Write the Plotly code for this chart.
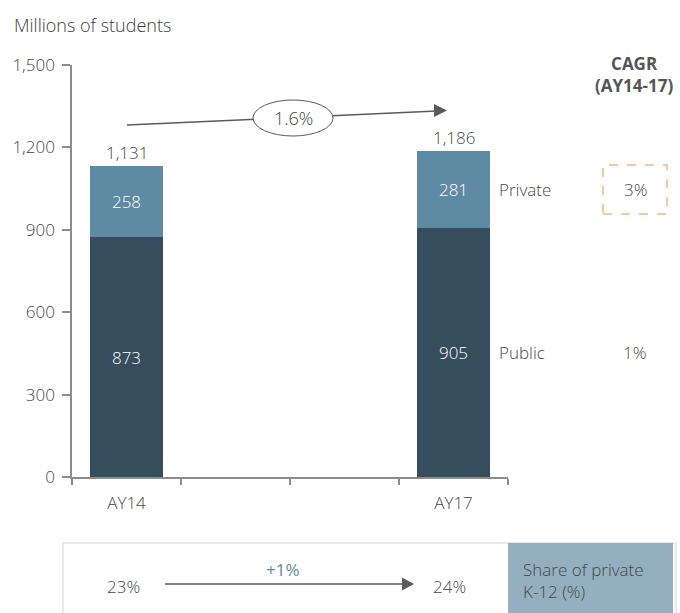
import plotly.graph_objects as go

# ---- data ----
categories = ["AY14", " ", "  ", "AY17"]
public = [873, None, None, 905]
private = [258, None, None, 281]
totals = [1131, None, None, 1186]
total_labels = ["1,131", "", "", "1,186"]
cagr_total = "1.6%"
cagr_private = "3%"
cagr_public = "1%"
share_start = "23%"
share_end = "24%"
share_change = "+1%"
y_ticks = [0, 300, 600, 900, 1200, 1500]
y_ticktext = ["0", "300", "600", "900", "1,200", "1,500"]

# ---- style ----
FONT = "Open Sans"
FS = 17
WT = 300
TXT = "#474747"
C_PRIV = "#5f8aa3"
C_PUB = "#354d5c"
C_SHADE = "#94afc0"
C_ORANGE = "#f7b877"
C_LINE = "#5a5a5a"

W, H = 680, 613
L, R, T, B = 72, 172, 65, 136
PW, PH = W - L - R, H - T - B


def px(x):
    return (x - L) / PW


def py(y):
    return (H - B - y) / PH


def F(size=FS, color=TXT, weight=WT):
    return dict(size=size, color=color, family=FONT, weight=weight)


fig = go.Figure()
fig.add_trace(go.Bar(
    x=categories, y=public, name="Public", marker_color=C_PUB, marker_line_width=0, width=0.67,
    text=[str(v) if v is not None else "" for v in public], textposition="inside",
    insidetextanchor="middle", textangle=0,
    textfont=F(color="white"), hoverinfo="skip"))
fig.add_trace(go.Bar(
    x=categories, y=private, name="Private", marker_color=C_PRIV, marker_line_width=0, width=0.67,
    text=[str(v) if v is not None else "" for v in private], textposition="inside",
    insidetextanchor="middle", textangle=0,
    textfont=F(color="white"), hoverinfo="skip"))

ann = []
for c, t, lab in zip(categories, totals, total_labels):
    if t is not None:
        ann.append(dict(x=c, y=t, xref="x", yref="y", text=lab, showarrow=False,
                        yanchor="middle", yshift=14, font=F()))


def txt(x, y, s, anchor="center", color=TXT, size=FS, weight=WT):
    ann.append(dict(x=px(x), y=py(y), xref="paper", yref="paper", text=s, showarrow=False,
                    xanchor=anchor, yanchor="middle", align="left" if anchor == "left" else "center",
                    font=F(size, color, weight)))


txt(12, 25, "Millions of students", anchor="left", color="#3d3d3d", size=18)
txt(634, 74, "CAGR<br>(AY14-17)", weight=700, color="#555555")
txt(497, 189, "Private", anchor="left")
txt(497, 352, "Public", anchor="left")
txt(635, 189, cagr_private)
txt(634, 352, cagr_public)
txt(293, 118, cagr_total, size=18)
txt(123, 586, share_start)
txt(449, 586, share_end)
txt(283, 569, share_change, color=C_PRIV, weight=400)
txt(521, 580, "Share of private<br>K-12 (%)", anchor="left")

shapes = []


def rect(x0, y0, x1, y1, **kw):
    shapes.append(dict(type="rect", xref="paper", yref="paper",
                       x0=px(x0), x1=px(x1), y0=py(y1), y1=py(y0), **kw))


def line(x0, y0, x1, y1, color=C_LINE, width=1.5):
    shapes.append(dict(type="line", xref="paper", yref="paper",
                       x0=px(x0), y0=py(y0), x1=px(x1), y1=py(y1),
                       line=dict(color=color, width=width)))


def tri(tipx, tipy, basex, half):
    p = "M {} {} L {} {} L {} {} Z".format(px(tipx), py(tipy), px(basex), py(tipy - half),
                                           px(basex), py(tipy + half))
    shapes.append(dict(type="path", xref="paper", yref="paper", path=p,
                       fillcolor=C_LINE, line=dict(width=0)))


# bottom box
rect(63, 543, 676, 640, fillcolor="white", line=dict(color="#e2e2e2", width=1.5), layer="below")
rect(508, 543, 673, 640, fillcolor=C_SHADE, line=dict(width=0), layer="below")
line(165, 584, 404, 584)
tri(414, 584, 402, 6.5)

# total CAGR connector
line(127, 125, 437, 111)
tri(447, 110.5, 434, 6.5)
shapes.append(dict(type="circle", xref="paper", yref="paper",
                   x0=px(253), x1=px(333), y0=py(136), y1=py(100),
                   fillcolor="white", line=dict(color=C_LINE, width=1)))

# orange dashed box
rect(603, 165, 667, 214, line=dict(color=C_ORANGE, width=1.5, dash="dash"))

fig.update_layout(
    width=W, height=H, barmode="stack", showlegend=False,
    margin=dict(l=L, r=R, t=T, b=B, pad=0),
    paper_bgcolor="white", plot_bgcolor="white",
    font=F(),
    annotations=ann, shapes=shapes,
    xaxis=dict(type="category", categoryorder="array", categoryarray=categories,
               range=[-0.5, 3.5], tickson="boundaries", ticks="outside", ticklen=6,
               tickcolor="#8c8c8c", tickwidth=1.5, showline=True, linecolor="#8c8c8c",
               linewidth=1.5, showgrid=False, zeroline=False, fixedrange=True,
               ticklabelstandoff=10, tickfont=F()),
    yaxis=dict(range=[0, 1500], tickvals=y_ticks, ticktext=y_ticktext, ticks="outside",
               ticklen=8, tickcolor="#8c8c8c", tickwidth=1.5, showline=True,
               linecolor="#8c8c8c", linewidth=1.5, showgrid=False, zeroline=False,
               ticklabelstandoff=4, fixedrange=True, tickfont=F()),
)

fig.write_html("out.html", config={"displayModeBar": False},
               post_script="document.body.style.margin='0';document.body.style.overflow='hidden';")
